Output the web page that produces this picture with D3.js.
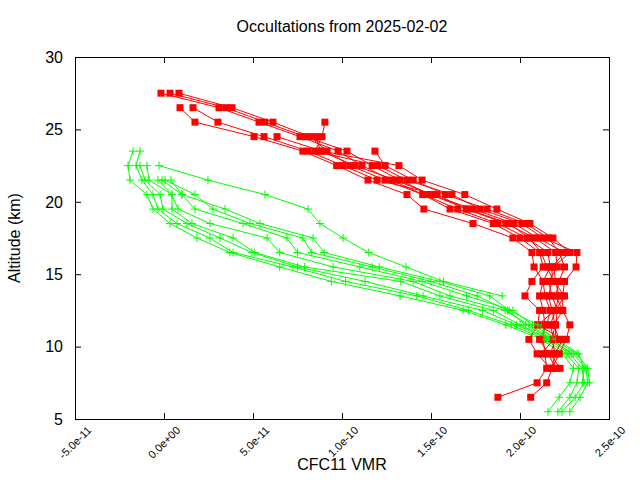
<!DOCTYPE html>
<html>
<head>
<meta charset="utf-8">
<script src="https://cdn.jsdelivr.net/npm/d3@7"></script>
<style>
  html, body { margin: 0; padding: 0; background: #fff; }
  svg { display: block; font-family: "Liberation Sans", Arial, sans-serif; }
</style>
</head>
<body>
<svg id="chart" width="640" height="480"></svg>
<script>
// ---- data (VMR values in pptv, i.e. units of 1e-12) ----
const titleText = "Occultations from 2025-02-02";
const xLabel = "CFC11 VMR";
const yLabel = "Altitude (km)";
const xTicks = [-5e-11, 0, 5e-11, 1e-10, 1.5e-10, 2e-10, 2.5e-10];
const xTickLabels = ["-5.0e-11", "0.0e+00", "5.0e-11", "1.0e-10", "1.5e-10", "2.0e-10", "2.5e-10"];
const yTicks = [5, 10, 15, 20, 25, 30];

const redAltitudes = [27.5, 26.5, 25.5, 24.5, 23.5, 22.5, 21.5, 20.5, 19.5, 18.5, 17.5,
                      16.5, 15.5, 14.5, 13.5, 12.5, 11.5, 10.5, 9.5, 8.5, 7.5, 6.5];
const greenAltitudes = [23.5, 22.5, 21.5, 20.5, 19.5, 18.5, 17.5, 16.5, 15.5, 14.5,
                        13.5, 12.5, 11.5, 10.5, 9.5, 8.5, 7.5, 6.5, 5.5];

const redProfiles = [
  [-1.7, 30.9, 53.4, 76.4, 97.8, 111.2, 128, 145.5, 165, 187.6, 204, 215.7, 217, 213, 211, 213, 214, 213, 214, 215, 209.6, 187.6],
  [3.4, 34.8, 56.7, 79.2, 102.8, 116.9, 132.6, 149.4, 173.6, 196.6, 210, 225, 218, 218, 216, 218, 219.7, 218, 219.7, 218, 215, 206],
  [8.4, 38.2, 61.2, 82, 91.6, 104.5, 124.2, 145.5, 160.7, 185, 200, 211, 213, 206.7, 202.8, 211, 210, 205, 209.6, 217, null, null],
  [null, 9, 17.4, 50.6, 78, 97, 114.6, 136.5, 146, 173.6, 196, 206.7, 207.9, 213, 214, 217, 215, 211, 216, 220, null, null],
  [null, 16.3, 30.3, 56.2, 81, 100.6, 119.7, 153.4, 169.7, 192, 208.4, 220, 221, 216, 218, 221, 220, 220, 217, 222.5, null, null],
  [null, null, 90.4, 88.8, 84.8, 120.2, 136.5, 161.8, 177.5, 201, 213, 232, 231.5, 225, 224, 224, 228, 226, 222, 218, null, null],
  [null, null, null, 63.5, 88.8, 132, 145, 169, 187, 205.6, 218.5, 228, 219, 220, 222, 219.7, 210, 224, 219.7, null, null, null],
  [null, null, null, 85.4, 88, 107.3, 130, 150, 170, 194, 205, 212, 215, 219, 225, 220, 217, 219, 212, null, null, null],
  [null, null, null, null, 118.5, 124.2, 140, 158, 181.5, 203, 216, 222, 225, 222, 220, 224, 219, 222, null, null, null, null]
];

const greenProfiles = [
  [-17.4, -20.2, -19.1, -9.6, -6.2, 3.4, 18.5, 37, 65, 94, 132.6, 168, 192, 212, 224, 230, 228, 222, 215.7],
  [-13.5, -15.7, -12.4, -6.2, -3.4, 7.3, 25.8, 38.8, 72.5, 102, 142, 171, 195, 214, 226, 233, 232, 228, 221.3],
  [null, -13.5, -10.7, -2.2, -0.6, 12.9, 31.5, 49.4, 75, 113, 145.5, 179, 198, 216, 228, 235, 236, 231, 223.6],
  [null, -9.6, -8.4, 4.5, 4.5, 15.7, 38.8, 51, 79, 133, 155, 185, 200, 217, 230, 237, 238, 233.7, 228],
  [null, null, -3.4, 4.5, 7.9, 25.8, 57.9, 65, 95, 140, 160.7, 191.6, 205, 219, 232, 238, 239, null, null],
  [null, null, -1.1, 10.1, 17.4, 44.4, 69.1, 75, 110, 145, 170, 196, 207, 221, 233, 236, 235, null, null],
  [null, null, 0.6, 17.4, 27.5, 48.3, 78, 83, 117, 150, 176, 193, 203, 218, 229, null, null, null, null],
  [null, null, 3.9, 10.1, 34.3, 53.9, 83.7, 90, 121, 155, 183, 194, 210, 220, null, null, null, null, null],
  [null, -2.8, 24.7, 56.7, 80.9, 87.6, 100.6, 115, 136, 157, 190, null, null, null, null, null, null, null, null]
];

// ---- layout ----
const W = 640, H = 480;
const plot = { left: 75, right: 609, top: 57, bottom: 419 };
const svg = d3.select("#chart");

const x = d3.scaleLinear().domain([-5e-11, 2.5e-10]).range([plot.left, plot.right]);
const y = d3.scaleLinear().domain([5, 30]).range([plot.bottom, plot.top]);
const toVMR = v => v * 1e-12;

// ---- axes (gnuplot-style inward ticks, mirrored) ----
const tick = 6;
svg.append("g").attr("transform", `translate(0,${plot.bottom})`)
  .call(d3.axisBottom(x).tickValues(xTicks).tickSize(-tick).tickSizeOuter(0).tickFormat(""))
  .call(g => g.select(".domain").remove());
svg.append("g").attr("transform", `translate(0,${plot.top})`)
  .call(d3.axisTop(x).tickValues(xTicks).tickSize(-tick).tickSizeOuter(0).tickFormat(""))
  .call(g => g.select(".domain").remove());
svg.append("g").attr("transform", `translate(${plot.left},0)`)
  .call(d3.axisLeft(y).tickValues(yTicks).tickSize(-tick).tickSizeOuter(0).tickFormat(""))
  .call(g => g.select(".domain").remove());
svg.append("g").attr("transform", `translate(${plot.right},0)`)
  .call(d3.axisRight(y).tickValues(yTicks).tickSize(-tick).tickSizeOuter(0).tickFormat(""))
  .call(g => g.select(".domain").remove());
svg.selectAll(".tick line").attr("stroke", "#000").attr("stroke-width", 1);

// y tick labels
svg.append("g").selectAll("text").data(yTicks).join("text")
  .attr("x", plot.left - 12).attr("y", d => y(d)).attr("dy", "0.36em")
  .attr("text-anchor", "end").attr("font-size", 16).attr("fill", "#000")
  .text(d => d);

// x tick labels, rotated 45 degrees
svg.append("g").selectAll("text").data(xTicks).join("text")
  .attr("transform", (d) => `translate(${x(d) + 17},${plot.bottom + 12}) rotate(-45)`)
  .attr("text-anchor", "end").attr("font-size", 11).attr("fill", "#000")
  .text((d, i) => xTickLabels[i]);

// ---- data marks ----
const redLine = d3.line().defined(d => d.v != null).x(d => x(toVMR(d.v))).y(d => y(d.alt));
const greenLine = redLine;
const layer = svg.append("g");
const n = Math.max(redProfiles.length, greenProfiles.length);
for (let i = 0; i < n; i++) {
  if (redProfiles[i]) {
    const pts = redProfiles[i].map((v, j) => ({ v, alt: redAltitudes[j] }));
    const defined = pts.filter(d => d.v != null);
    layer.append("path").datum(defined).attr("d", redLine)
      .attr("fill", "none").attr("stroke", "#ff0000").attr("stroke-width", 1);
    layer.append("g").selectAll("rect").data(defined).join("rect")
      .attr("x", d => x(toVMR(d.v)) - 3.5).attr("y", d => y(d.alt) - 3.5)
      .attr("width", 7).attr("height", 7).attr("fill", "#ff0000");
  }
  if (greenProfiles[i]) {
    const pts = greenProfiles[i].map((v, j) => ({ v, alt: greenAltitudes[j] }));
    const defined = pts.filter(d => d.v != null);
    layer.append("path").datum(defined).attr("d", greenLine)
      .attr("fill", "none").attr("stroke", "#00ff00").attr("stroke-width", 1);
    layer.append("g").selectAll("path").data(defined).join("path")
      .attr("d", d => {
        const cx = x(toVMR(d.v)), cy = y(d.alt);
        return `M${cx - 4},${cy}H${cx + 4}M${cx},${cy - 4}V${cy + 4}`;
      })
      .attr("stroke", "#00ff00").attr("stroke-width", 1).attr("fill", "none");
  }
}

// frame
svg.append("rect")
  .attr("x", plot.left).attr("y", plot.top)
  .attr("width", plot.right - plot.left).attr("height", plot.bottom - plot.top)
  .attr("fill", "none").attr("stroke", "#000").attr("stroke-width", 1)
  .attr("shape-rendering", "crispEdges");

// titles
svg.append("text").attr("x", (plot.left + plot.right) / 2).attr("y", 32)
  .attr("text-anchor", "middle").attr("font-size", 16).text(titleText);
svg.append("text").attr("x", (plot.left + plot.right) / 2).attr("y", 470)
  .attr("text-anchor", "middle").attr("font-size", 16).text(xLabel);
svg.append("text").attr("transform", `translate(20,${(plot.top + plot.bottom) / 2}) rotate(-90)`)
  .attr("text-anchor", "middle").attr("font-size", 16).text(yLabel);
</script>
</body>
</html>
